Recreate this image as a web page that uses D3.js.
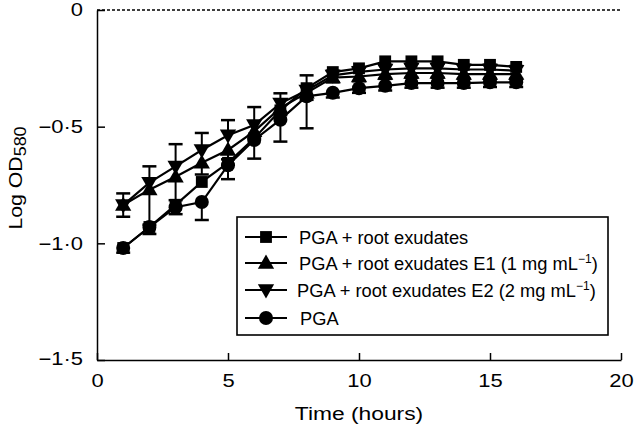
<!DOCTYPE html>
<html><head><meta charset="utf-8">
<script src="https://cdn.jsdelivr.net/npm/d3@7"></script>
<style>body{margin:0;background:#fff}svg{display:block;font-family:"Liberation Sans",Arial,sans-serif}</style>
</head><body>
<svg id="c" width="634" height="430"></svg>
<script>
const times = [1, 2, 3, 4, 5, 6, 7, 8, 9, 10, 11, 12, 13, 14, 15, 16];
const seriesNames = ["PGA + root exudates", "PGA + root exudates E1 (1 mg mL", "PGA + root exudates E2 (2 mg mL", "PGA"];
const squareVals = [-1.02, -0.93, -0.835, -0.737, -0.655, -0.55, -0.43, -0.335, -0.266, -0.25, -0.22, -0.22, -0.22, -0.235, -0.235, -0.244];
const upTriVals  = [-0.836, -0.77, -0.715, -0.655, -0.60, -0.52, -0.42, -0.355, -0.29, -0.285, -0.275, -0.27, -0.27, -0.275, -0.275, -0.275];
const downTriVals= [-0.836, -0.74, -0.67, -0.60, -0.537, -0.493, -0.40, -0.345, -0.28, -0.265, -0.255, -0.25, -0.25, -0.255, -0.255, -0.26];
const circleVals = [-1.02, -0.93, -0.845, -0.823, -0.665, -0.557, -0.47, -0.37, -0.355, -0.335, -0.325, -0.313, -0.313, -0.313, -0.31, -0.31];
// one-sided error bars
const downTriErrUp = [0.05, 0.07, 0.095, 0.073, 0.065, 0.077, 0.043, 0.065, 0.02, 0.02, 0.02, 0.02, 0.02, 0.02, 0.02, 0.02];
const upTriErrDown = [0.05, 0.15, 0.10, 0.05, 0.04, 0.03, 0.03, 0.03, 0.02, 0.02, 0.02, 0.02, 0.02, 0.02, 0.02, 0.02];
const circleErrDown= [0.02, 0.03, 0.03, 0.077, 0.06, 0.08, 0.094, 0.137, 0.02, 0.02, 0.02, 0.02, 0.02, 0.02, 0.02, 0.02];
const xTicks = [0, 5, 10, 15, 20];
const yTicks = [0, -0.5, -1.0, -1.5];
const yTickLabels = ["0", "\u22120\u00b75", "\u22121\u00b70", "\u22121\u00b75"];

const svg = d3.select("#c");
const x = d3.scaleLinear().domain([0, 20]).range([97, 621]);
const y = d3.scaleLinear().domain([-1.5, 0]).range([360, 10]);
const TS = 1.22; // horizontal stretch of axis text

// top dotted line at 0
svg.append("line").attr("x1", x(0)).attr("x2", x(20)).attr("y1", y(0)).attr("y2", y(0))
  .attr("stroke", "#000").attr("stroke-width", 1.3).attr("stroke-dasharray", "3,2");

// axes
const xAxis = d3.axisBottom(x).tickValues(xTicks).tickSizeInner(-7).tickSizeOuter(0).tickPadding(14).tickFormat(d3.format("d"));
const gx = svg.append("g").attr("transform", `translate(0,${y(-1.5)})`).call(xAxis);
const yAxis = d3.axisLeft(y).tickValues(yTicks).tickSizeInner(-8).tickSizeOuter(0).tickPadding(14)
  .tickFormat((d, i) => yTickLabels[i]);
const gy = svg.append("g").attr("transform", `translate(${x(0)},0)`).call(yAxis);
[gx, gy].forEach(g => {
  g.selectAll("path").attr("stroke", "#000").attr("stroke-width", 1.5);
  g.selectAll("line").attr("stroke", "#000").attr("stroke-width", 1.5);
  g.selectAll("text").attr("font-size", 18).attr("fill", "#000").attr("font-family", "Liberation Sans, Arial, sans-serif")
    .attr("transform", `scale(${TS},1)`);
});
gy.selectAll(".tick text").attr("x", -14 / TS);
gy.selectAll(".tick").filter(d => d === -1.5).select("text").attr("dy", "0.25em");
gx.selectAll(".tick text").attr("dy", "0.71em");

// axis titles
svg.append("text").attr("transform", `translate(${x(10)},420) scale(1.2,1)`).attr("text-anchor", "middle")
  .attr("font-size", 19).text("Time (hours)");
const yl = svg.append("text").attr("transform", `translate(22,178) rotate(-90) scale(1.12,1)`)
  .attr("text-anchor", "middle").attr("font-size", 19);
yl.append("tspan").text("Log OD");
yl.append("tspan").attr("font-size", 16).attr("dy", 4).text("580");

const series = [
  {name: seriesNames[0], vals: squareVals, sym: d3.symbolSquare, size: 140},
  {name: seriesNames[1], vals: upTriVals, sym: d3.symbolTriangle, size: 115, rot: 0, errDown: upTriErrDown},
  {name: seriesNames[2], vals: downTriVals, sym: d3.symbolTriangle, size: 115, rot: 180, errUp: downTriErrUp},
  {name: seriesNames[3], vals: circleVals, sym: d3.symbolCircle, size: 155, errDown: circleErrDown}
];

const line = d3.line().x(d => x(d[0])).y(d => y(d[1]));
const capW = 7;
// error bars
series.forEach(s => {
  const g = svg.append("g");
  times.forEach((t, i) => {
    const v = s.vals[i];
    if (s.errUp) {
      const top = v + s.errUp[i];
      g.append("line").attr("x1", x(t)).attr("x2", x(t)).attr("y1", y(v)).attr("y2", y(top)).attr("stroke", "#000").attr("stroke-width", 2);
      g.append("line").attr("x1", x(t) - capW).attr("x2", x(t) + capW).attr("y1", y(top)).attr("y2", y(top)).attr("stroke", "#000").attr("stroke-width", 2.5);
    }
    if (s.errDown) {
      const bot = v - s.errDown[i];
      g.append("line").attr("x1", x(t)).attr("x2", x(t)).attr("y1", y(v)).attr("y2", y(bot)).attr("stroke", "#000").attr("stroke-width", 2);
      g.append("line").attr("x1", x(t) - capW).attr("x2", x(t) + capW).attr("y1", y(bot)).attr("y2", y(bot)).attr("stroke", "#000").attr("stroke-width", 2.5);
    }
  });
});
// lines and markers
series.forEach(s => {
  const pts = times.map((t, i) => [t, s.vals[i]]);
  svg.append("path").attr("d", line(pts)).attr("fill", "none").attr("stroke", "#000").attr("stroke-width", 2.2);
});
series.forEach(s => {
  times.forEach((t, i) => {
    svg.append("path").attr("d", d3.symbol().type(s.sym).size(s.size)())
      .attr("transform", `translate(${x(t)},${y(s.vals[i]) + (s.sym === d3.symbolTriangle ? (s.rot ? -1 : 1) : 0)}) rotate(${s.rot || 0})`)
      .attr("fill", "#000");
  });
});

// legend
const lg = svg.append("g");
lg.append("rect").attr("x", 237).attr("y", 217).attr("width", 371).attr("height", 118)
  .attr("fill", "#fff").attr("stroke", "#000").attr("stroke-width", 1.6);
const rowsY = [237, 263, 290, 318];
series.forEach((s, i) => {
  const cy = rowsY[i];
  lg.append("line").attr("x1", 245).attr("x2", 287).attr("y1", cy).attr("y2", cy).attr("stroke", "#000").attr("stroke-width", 2.2);
  lg.append("path").attr("d", d3.symbol().type(s.sym).size(s.size)())
    .attr("transform", `translate(266,${cy + (s.sym === d3.symbolTriangle ? (s.rot ? -1 : 1) : 0)}) rotate(${s.rot || 0})`).attr("fill", "#000");
  const tx = lg.append("text").attr("x", i === 2 ? 297 : (i === 3 ? 300 : 299)).attr("y", cy + 6.5).attr("font-size", 18.3);
  tx.append("tspan").text(s.name);
  if (i === 1 || i === 2) {
    tx.append("tspan").attr("font-size", 12).attr("dy", -7).text("\u22121");
    tx.append("tspan").attr("dy", 7).text(")");
  }
});
</script>
</body></html>
